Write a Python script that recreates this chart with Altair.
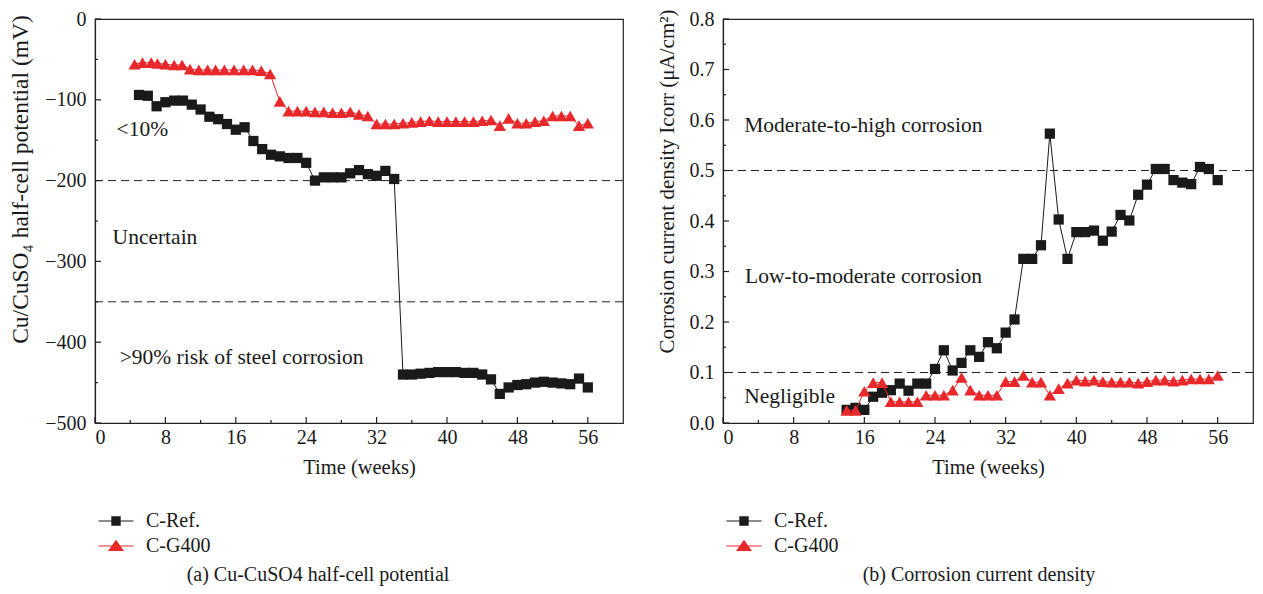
import altair as alt
import pandas as pd

FONT = "Liberation Serif"
names = ["C-Ref.", "C-G400"]
colors = ["#1a1a1a", "#e8282b"]

# ---- panel (a): Cu/CuSO4 half-cell potential (mV)
ref_weeks_a = list(range(5, 57))
ref_mv_a = [-94, -95, -108, -103, -101, -101, -106, -112, -121, -124, -130, -137, -134, -151,
            -161, -168, -170, -172, -172, -178, -200, -196, -196, -196, -191, -187, -192, -194,
            -188, -198,
            -440, -440, -439, -438, -437, -437, -437, -438, -438, -440, -446, -464, -456, -453,
            -452, -450, -449, -450, -451, -452, -445, -456]
g400_weeks_a = [4.5, 5.4, 6.4, 7.1, 8, 9, 9.9, 10.8, 11.8, 12.8, 13.7, 14.7, 15.8, 16.9, 17.9,
                18.9, 19.9] + list(range(21, 57))
g400_mv_a = [-56, -54, -54, -55, -56, -57, -57, -62, -63, -63, -63, -63, -63, -63, -63, -64, -68,
             -102, -114, -114, -114, -115, -115, -116, -116, -115, -118, -120,
             -130, -130, -130, -129, -128, -127, -126, -127, -127, -127, -127, -127, -126, -125,
             -132, -123, -129, -129, -127, -126, -120, -120, -120, -132, -129]

# ---- panel (b): corrosion current density
ref_weeks_b = list(range(14, 57))
ref_icorr_b = [0.026, 0.030, 0.026, 0.052, 0.060, 0.065, 0.078, 0.064, 0.078, 0.078, 0.107, 0.144,
               0.104, 0.119, 0.144, 0.131, 0.160, 0.148, 0.179, 0.205, 0.325, 0.325, 0.352, 0.573,
               0.403, 0.325, 0.378, 0.378, 0.381, 0.361, 0.379, 0.412, 0.401, 0.452, 0.472, 0.503,
               0.503, 0.481, 0.476, 0.473, 0.507, 0.503, 0.481]
g400_weeks_b = list(range(14, 57))
g400_icorr_b = [0.025, 0.025, 0.063, 0.080, 0.080, 0.042, 0.042, 0.042, 0.042, 0.055, 0.055, 0.055,
                0.065, 0.090, 0.065, 0.055, 0.055, 0.055, 0.082, 0.082, 0.094, 0.081, 0.081, 0.055,
                0.068, 0.079, 0.085, 0.083, 0.085, 0.082, 0.081, 0.081, 0.081, 0.079, 0.082, 0.085,
                0.085, 0.083, 0.085, 0.087, 0.087, 0.087, 0.094]

x_ticks = [0, 8, 16, 24, 32, 40, 48, 56]
x_minor = [4, 12, 20, 28, 36, 44, 52]
y_ticks_a = [-500, -400, -300, -200, -100, 0]
y_minor_a = [-450, -350, -250, -150, -50]
y_ticks_b = [0.0, 0.1, 0.2, 0.3, 0.4, 0.5, 0.6, 0.7, 0.8]
y_minor_b = [0.05, 0.15, 0.25, 0.35, 0.45, 0.55, 0.65, 0.75]

thresholds_a = [-200, -350]
thresholds_b = [0.1, 0.5]
zones_a = ["<10%", "Uncertain", ">90% risk of steel corrosion"]
zone_x_a = [2.45, 2.0, 2.8]
zone_y_a = [-137, -271, -419]
zones_b = ["Moderate-to-high corrosion", "Low-to-moderate corrosion", "Negligible"]
zone_x_b = [2.4, 2.5, 2.4]
zone_y_b = [0.589, 0.29, 0.052]

H = 404
LINE = "M-1.75,-0.06H1.75V0.06H-1.75Z"
legend_paths = [LINE + " M-0.47,-0.47H0.47V0.47H-0.47Z",
                LINE + " M0,-0.62L0.8,0.5H-0.8Z"]


def panel(ref_x, ref_y, g_x, g_y, ydomain, yticks, yminor, yfmt, ytitle, ytitle_size, ytitle_y,
          thresholds, zones, zx, zy, caption, width, cap_dx):
    xs = alt.Scale(domain=[0, 60], nice=False, zero=False)
    ys = alt.Scale(domain=ydomain, nice=False, zero=False)
    xaxis = alt.Axis(values=x_ticks, title="Time (weeks)", labelPadding=4, titlePadding=10)
    yaxis = alt.Axis(values=yticks, title=ytitle, format=yfmt, labelPadding=9, titlePadding=12,
                     titleFontSize=ytitle_size, titleY=ytitle_y)

    def X(f):
        return alt.X(f, type="quantitative", scale=xs, axis=xaxis)

    def Y(f):
        return alt.Y(f, type="quantitative", scale=ys, axis=yaxis)

    df_ref = pd.DataFrame({"x": ref_x, "y": ref_y})
    df_g = pd.DataFrame({"x": g_x, "y": g_y})

    layers = []
    layers.append(alt.Chart(pd.DataFrame({"v": thresholds})).mark_rule(
        strokeDash=[8, 5], color="#222", strokeWidth=1).encode(y=Y("v")))
    layers.append(alt.Chart(pd.DataFrame({"t": x_ticks})).mark_rule(color="#222", strokeWidth=1.2)
                  .encode(x=X("t"), y=alt.value(H), y2=alt.value(H - 6)))
    layers.append(alt.Chart(pd.DataFrame({"t": x_minor})).mark_rule(color="#222", strokeWidth=1.2)
                  .encode(x=X("t"), y=alt.value(H), y2=alt.value(H - 3)))
    layers.append(alt.Chart(pd.DataFrame({"t": yticks})).mark_rule(color="#222", strokeWidth=1.2)
                  .encode(y=Y("t"), x=alt.value(0), x2=alt.value(6)))
    layers.append(alt.Chart(pd.DataFrame({"t": yminor})).mark_rule(color="#222", strokeWidth=1.2)
                  .encode(y=Y("t"), x=alt.value(0), x2=alt.value(3)))
    for df, col, shape, size in [(df_ref, colors[0], "square", 105), (df_g, colors[1], "triangle-up", 150)]:
        layers.append(alt.Chart(df).mark_line(color=col, strokeWidth=1).encode(x=X("x"), y=Y("y")))
        layers.append(alt.Chart(df).mark_point(color=col, shape=shape, filled=True, opacity=1,
                                               size=size).encode(x=X("x"), y=Y("y")))
    layers.append(alt.Chart(pd.DataFrame({"label": zones, "x": zx, "y": zy})).mark_text(
        align="left", baseline="middle", font=FONT, fontSize=21.5, color="#1a1a1a").encode(
        x=X("x"), y=Y("y"), text="label:N"))
    leg = alt.Legend(title=None, orient="none", legendX=11, legendY=492, padding=0,
                     labelFont=FONT, labelFontSize=20, labelColor="#1a1a1a",
                     symbolSize=400, labelOffset=20, rowPadding=5, symbolStrokeWidth=0)
    layers.append(alt.Chart(pd.DataFrame({"series": names})).transform_filter("false")
                  .mark_point(filled=True, opacity=1, size=400).encode(
        shape=alt.Shape("series:N", scale=alt.Scale(domain=names, range=legend_paths), legend=leg),
        color=alt.Color("series:N", scale=alt.Scale(domain=names, range=colors), legend=leg)))

    return alt.layer(*layers).properties(
        width=width, height=H,
        title=alt.TitleParams(caption, orient="bottom", anchor="middle", offset=9, dx=cap_dx,
                              font=FONT, fontSize=20, fontWeight="normal", color="#1a1a1a"))


pa = panel(ref_weeks_a, ref_mv_a, g400_weeks_a, g400_mv_a, [-500, 0], y_ticks_a, y_minor_a, "d",
           "Cu/CuSO\u2084 half-cell potential (mV)", 23.5, 160, thresholds_a, zones_a, zone_x_a,
           zone_y_a, "(a)  Cu-CuSO4 half-cell potential", 528, -41)
pb = panel(ref_weeks_b, ref_icorr_b, g400_weeks_b, g400_icorr_b, [0, 0.8], y_ticks_b, y_minor_b, ".1f",
           "Corrosion current density Icorr (\u03bcA/cm\u00b2)", 21, 162, thresholds_b, zones_b,
           zone_x_b, zone_y_b, "(b)  Corrosion current density", 530, -9)

chart = alt.hconcat(pa, pb, spacing=30).resolve_scale(color="independent", shape="independent") \
    .resolve_legend(color="independent", shape="independent").properties(
    padding={"left": 0, "top": 0, "right": 0, "bottom": 0}
).configure_axis(
    labelFont=FONT, titleFont=FONT, labelFontSize=20, titleFontSize=20.5, labelColor="#1a1a1a",
    titleColor="#1a1a1a", titleFontWeight="normal", domainColor="#222", domainWidth=1.2,
    tickSize=0, grid=False
).configure_view(stroke="#222", strokeWidth=1.2)

chart.save("out.html", embed_options={"renderer": "svg", "actions": False})
